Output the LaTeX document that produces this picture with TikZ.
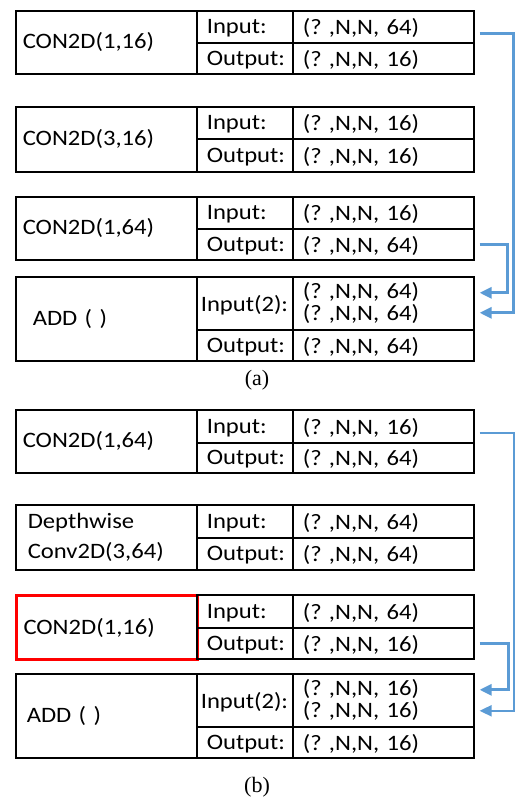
\documentclass[tikz,border=0pt]{standalone}
\usepackage{fontspec}
\setmainfont{Carlito}[FakeStretch=1.12]
\newfontfamily\capfont{Liberation Serif}
\usetikzlibrary{arrows.meta}
\definecolor{linkblue}{HTML}{5B9BD5}
\frenchspacing
\tikzset{
  cell/.style={draw, line width=1.6pt, anchor=north west, inner ysep=0pt, align=left, font=\fontsize{22}{26}\selectfont\frenchspacing},
  namecell/.style={cell, inner xsep=7pt, text width=167pt},
  labcell/.style={cell, inner xsep=10pt, text width=76pt, text depth=0pt},
  valcell/.style={cell, inner xsep=10pt, text width=161pt, text depth=0pt},
  twocell/.style={cell, inner xsep=10pt, text width=161pt},
  skip/.style={draw=linkblue, line width=3pt, -{Triangle[length=12pt,width=11pt]}},
}
\begin{document}
\begin{tikzpicture}[x=1pt,y=-1pt]
\useasboundingbox (0,0) rectangle (516,801);

\node[namecell, minimum height=63pt] (a1name) at (15,10) {CON2D(1,16)};
\node[labcell, minimum height=32pt] (a1in) at (196,10) {Input:};
\node[valcell, minimum height=32pt] (a1inval) at (292,10) {(? ,N,N, 64)};
\node[labcell, minimum height=31pt] (a1out) at (196,42) {Output:};
\node[valcell, minimum height=31pt] (a1outval) at (292,42) {(? ,N,N, 16)};

\node[namecell, minimum height=65pt] (a2name) at (15,106) {CON2D(3,16)};
\node[labcell, minimum height=32pt] (a2in) at (196,106) {Input:};
\node[valcell, minimum height=32pt] (a2inval) at (292,106) {(? ,N,N, 16)};
\node[labcell, minimum height=33pt] (a2out) at (196,138) {Output:};
\node[valcell, minimum height=33pt] (a2outval) at (292,138) {(? ,N,N, 16)};

\node[namecell, minimum height=63pt] (a3name) at (15,196) {CON2D(1,64)};
\node[labcell, minimum height=32pt] (a3in) at (196,196) {Input:};
\node[valcell, minimum height=32pt] (a3inval) at (292,196) {(? ,N,N, 16)};
\node[labcell, minimum height=31pt] (a3out) at (196,228) {Output:};
\node[valcell, minimum height=31pt] (a3outval) at (292,228) {(? ,N,N, 64)};

\node[namecell, inner xsep=17pt, text width=147pt, minimum height=84pt] (a4name) at (15,276) {ADD ( )};
\node[labcell, inner xsep=4pt, text width=88pt, minimum height=53pt] (a4in) at (196,276) {Input(2):};
\node[twocell, minimum height=53pt] (a4inval) at (292,276) {(? ,N,N, 64)\\[-4pt](? ,N,N, 64)};
\node[labcell, minimum height=31pt] (a4out) at (196,329) {Output:};
\node[valcell, minimum height=31pt] (a4outval) at (292,329) {(? ,N,N, 64)};

\draw[skip] ([xshift=5pt,yshift=-7pt]a1inval.east) -- ++(34,0) |- ([xshift=5pt,yshift=-9.5pt]a4inval.east);
\draw[skip] ([xshift=5pt]a3outval.east) -- ++(28,0) |- ([xshift=5pt,yshift=10.5pt]a4inval.east);

\node[font=\capfont\fontsize{22}{26}\selectfont] (capa) at (257,380) {(a)};

\node[namecell, minimum height=63pt] (b1name) at (15,409) {CON2D(1,64)};
\node[labcell, minimum height=33pt] (b1in) at (196,409) {Input:};
\node[valcell, minimum height=33pt] (b1inval) at (292,409) {(? ,N,N, 16)};
\node[labcell, minimum height=30pt] (b1out) at (196,442) {Output:};
\node[valcell, minimum height=30pt] (b1outval) at (292,442) {(? ,N,N, 64)};

\node[namecell, font=\fontsize{22}{30}\selectfont, inner xsep=12pt, text width=157pt, minimum height=65pt] (b2name) at (15,504) {Depthwise\\Conv2D(3,64)};
\node[labcell, minimum height=33pt] (b2in) at (196,504) {Input:};
\node[valcell, minimum height=33pt] (b2inval) at (292,504) {(? ,N,N, 64)};
\node[labcell, minimum height=32pt] (b2out) at (196,537) {Output:};
\node[valcell, minimum height=32pt] (b2outval) at (292,537) {(? ,N,N, 64)};

\node[namecell, draw=red, line width=3pt, minimum height=64pt] (b3name) at (15,594) {CON2D(1,16)};
\node[labcell, minimum height=33pt] (b3in) at (196,594) {Input:};
\node[valcell, minimum height=33pt] (b3inval) at (292,594) {(? ,N,N, 64)};
\node[labcell, minimum height=31pt] (b3out) at (196,627) {Output:};
\node[valcell, minimum height=31pt] (b3outval) at (292,627) {(? ,N,N, 16)};

\node[namecell, inner xsep=11pt, text width=159pt, minimum height=84pt] (b4name) at (15,673) {ADD ( )};
\node[labcell, inner xsep=4pt, text width=88pt, minimum height=53pt] (b4in) at (196,673) {Input(2):};
\node[twocell, minimum height=53pt] (b4inval) at (292,673) {(? ,N,N, 16)\\[-4pt](? ,N,N, 16)};
\node[labcell, minimum height=31pt] (b4out) at (196,726) {Output:};
\node[valcell, minimum height=31pt] (b4outval) at (292,726) {(? ,N,N, 16)};

\draw[skip, line width=2.2pt] ([xshift=5pt,yshift=-6.5pt]b1inval.east) -- ++(34,0) |- ([xshift=5pt,yshift=-10.5pt]b4inval.east);
\draw[skip] ([xshift=5pt]b3outval.east) -- ++(29,0) |- ([xshift=5pt,yshift=10.5pt]b4inval.east);

\node[font=\capfont\fontsize{22}{26}\selectfont] (capb) at (257,787) {(b)};
\end{tikzpicture}
\end{document}
